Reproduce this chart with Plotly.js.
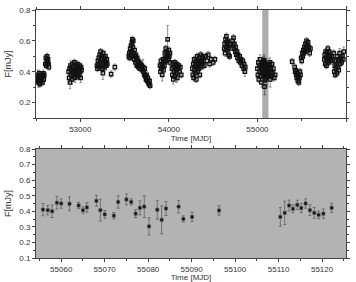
<!DOCTYPE html>
<html><head><meta charset="utf-8">
<script src="https://cdn.plot.ly/plotly-3.0.1.min.js"></script>
<style>html,body{margin:0;padding:0;background:#fff}#c{width:356px;height:282px}</style>
</head><body><div id="c"></div>
<script>
// ---- Top panel: full light curve (MJD, flux mJy, error) ----
var topMJD = [
 52508,52513,52518,52523,52528,52533,52538,52543,52548,52553,52558,52563,52568,52573,52578,52583,52588,52593,
 52606,52611,52616,52621,52626,52631,52636,52641,52645,
 52868,52874,52879,52884,52889,52894,52899,52904,52909,52914,52919,52924,52929,52934,52939,52944,52949,52954,52959,52964,52969,52974,52979,52984,52989,52994,52999,53004,53009,53014,
 53188,53194,53199,53204,53209,53214,53219,53224,53229,53234,53239,53244,53249,53255,53259,53264,53269,53274,53279,53284,53289,53294,53300,53305,
 53348,53390,
 53548,53553,53558,53563,53568,53573,53578,53583,53588,53593,53598,53603,53608,53613,53618,53623,53628,53633,53638,53643,53648,53653,53658,53663,53668,53673,53678,
 53695,53702,53708,53715,53722,53728,53735,53742,53748,53755,53762,53768,53775,53782,53788,
 53900,53905,53910,53915,53920,53925,53930,53935,53940,53945,53950,53955,53960,53965,53970,53975,53980,53986,53990,53995,54000,54005,54010,54012,
 54035,54040,54045,54050,54055,54060,54065,54070,54075,54080,54085,54090,54095,54100,54110,54120,54130,54140,
 54265,54270,54275,54280,54285,54290,54295,54300,54305,54310,54315,54320,54325,54330,54335,54340,54345,54350,54355,54360,54365,54370,54375,54380,54385,54390,
 54400,54415,54430,54445,54460,54480,54500,54520,
 54625,54630,54635,54640,54645,54650,54655,54660,54665,54670,54675,54680,54685,54690,
 54720,54725,54730,54735,54740,54750,54755,54760,54770,54775,54780,54790,54800,54810,54815,54825,54835,54845,54850,54858,54863,
 55000,55005,55010,55015,55020,55025,55030,55035,55040,55045,55050,55052,
 55130,55135,55140,55145,55150,55155,55160,55165,55170,55180,55190,55200,
 55392,
 55420,55426,55432,55438,55444,55450,55456,55462,55468,55474,55480,55486,
 55494,55500,55506,55512,55518,55524,55530,55536,55542,55548,55554,55560,55566,55572,55580,55590,55598,
 55755,55760,55765,55770,55775,55780,55785,55790,55795,55800,55805,55810,55815,55820,55830,55840,55850,55860,
 55868,55873,55878,55883,55888,55893,55898,55903,55908,55913,55918,55923,55928,55933,55940,55950,55960,55970,55975
];
var topFlux = [
 0.37,0.35,0.38,0.34,0.33,0.36,0.39,0.32,0.35,0.37,0.34,0.38,0.36,0.33,0.37,0.39,0.35,0.38,
 0.45,0.49,0.44,0.47,0.50,0.46,0.48,0.45,0.43,
 0.40,0.36,0.42,0.33,0.44,0.38,0.41,0.35,0.45,0.39,0.43,0.37,0.41,0.46,0.36,0.40,0.44,0.38,0.42,0.39,0.45,0.37,0.43,0.41,0.38,0.44,0.40,0.36,0.43,0.41,
 0.44,0.42,0.47,0.45,0.49,0.43,0.51,0.46,0.53,0.48,0.44,0.50,0.42,0.39,0.52,0.45,0.49,0.43,0.47,0.50,0.46,0.44,0.48,0.45,
 0.385,0.43,
 0.50,0.52,0.49,0.55,0.51,0.57,0.53,0.59,0.61,0.56,0.60,0.52,0.48,0.54,0.50,0.46,0.51,0.48,0.44,0.49,0.45,0.47,0.43,0.46,0.44,0.42,0.45,
 0.44,0.41,0.43,0.40,0.38,0.42,0.37,0.35,0.38,0.34,0.36,0.33,0.32,0.34,0.31,
 0.44,0.40,0.47,0.42,0.45,0.38,0.43,0.48,0.41,0.46,0.44,0.52,0.49,0.55,0.47,0.53,0.50,0.61,0.51,0.48,0.54,0.50,0.46,0.52,
 0.42,0.38,0.45,0.35,0.43,0.40,0.46,0.37,0.44,0.41,0.39,0.45,0.36,0.42,0.44,0.40,0.43,0.38,
 0.42,0.38,0.45,0.36,0.48,0.41,0.44,0.39,0.47,0.35,0.43,0.50,0.40,0.46,0.42,0.49,0.44,0.38,0.47,0.51,0.43,0.46,0.49,0.45,0.50,0.47,
 0.44,0.50,0.47,0.51,0.45,0.48,0.46,0.48,
 0.55,0.58,0.52,0.61,0.56,0.63,0.59,0.54,0.60,0.57,0.51,0.55,0.50,0.58,
 0.60,0.57,0.62,0.55,0.58,0.53,0.56,0.51,0.53,0.49,0.51,0.47,0.50,0.46,0.48,0.44,0.47,0.42,0.45,0.40,0.43,
 0.42,0.38,0.46,0.35,0.44,0.40,0.48,0.37,0.43,0.33,0.41,0.45,
 0.44,0.38,0.46,0.35,0.42,0.40,0.37,0.45,0.39,0.42,0.36,0.38,
 0.465,
 0.43,0.40,0.41,0.38,0.36,0.39,0.34,0.37,0.33,0.36,0.40,0.38,
 0.49,0.47,0.52,0.50,0.54,0.52,0.56,0.53,0.58,0.55,0.60,0.57,0.54,0.59,0.56,0.52,0.55,
 0.48,0.51,0.45,0.53,0.49,0.44,0.52,0.47,0.55,0.50,0.46,0.53,0.49,0.51,0.47,0.50,0.48,0.52,
 0.40,0.44,0.38,0.47,0.42,0.45,0.39,0.50,0.43,0.47,0.41,0.48,0.52,0.45,0.49,0.46,0.50,0.48,0.53
];
var topErr = [
 0.02,0.02,0.03,0.02,0.03,0.02,0.02,0.02,0.03,0.02,0.02,0.02,0.03,0.02,0.02,0.02,0.03,0.02,
 0.02,0.02,0.02,0.03,0.02,0.02,0.02,0.02,0.02,
 0.02,0.03,0.02,0.04,0.03,0.02,0.02,0.03,0.02,0.02,0.02,0.03,0.02,0.02,0.03,0.02,0.02,0.02,0.03,0.02,0.02,0.02,0.02,0.03,0.02,0.02,0.02,0.03,0.02,0.02,
 0.02,0.02,0.03,0.02,0.02,0.02,0.02,0.03,0.02,0.02,0.02,0.02,0.02,0.04,0.02,0.02,0.03,0.02,0.02,0.02,0.02,0.03,0.02,0.02,
 0.02,0.02,
 0.02,0.02,0.02,0.02,0.03,0.02,0.02,0.02,0.02,0.02,0.02,0.02,0.02,0.02,0.02,0.02,0.02,0.02,0.02,0.02,0.02,0.02,0.02,0.02,0.02,0.02,0.02,
 0.03,0.02,0.05,0.02,0.02,0.02,0.02,0.02,0.02,0.02,0.02,0.02,0.02,0.02,0.02,
 0.02,0.02,0.02,0.02,0.03,0.04,0.02,0.02,0.02,0.02,0.02,0.02,0.03,0.02,0.02,0.02,0.02,0.09,0.02,0.02,0.02,0.02,0.02,0.02,
 0.02,0.02,0.02,0.03,0.02,0.02,0.02,0.02,0.02,0.02,0.06,0.02,0.02,0.02,0.02,0.02,0.02,0.02,
 0.02,0.02,0.02,0.02,0.02,0.02,0.03,0.02,0.02,0.02,0.02,0.02,0.02,0.02,0.02,0.02,0.02,0.02,0.02,0.02,0.02,0.02,0.02,0.02,0.02,0.02,
 0.02,0.02,0.02,0.02,0.02,0.02,0.02,0.02,
 0.02,0.02,0.02,0.02,0.02,0.02,0.02,0.02,0.02,0.02,0.02,0.02,0.02,0.02,
 0.02,0.02,0.02,0.02,0.02,0.02,0.02,0.02,0.02,0.02,0.02,0.02,0.02,0.02,0.02,0.02,0.02,0.02,0.02,0.03,0.02,
 0.03,0.02,0.03,0.02,0.04,0.02,0.03,0.02,0.02,0.03,0.02,0.02,
 0.03,0.02,0.03,0.05,0.02,0.03,0.02,0.02,0.02,0.03,0.02,0.03,
 0.02,
 0.02,0.02,0.02,0.02,0.02,0.02,0.02,0.02,0.02,0.02,0.02,0.02,
 0.02,0.02,0.02,0.02,0.02,0.02,0.02,0.02,0.02,0.02,0.02,0.02,0.02,0.02,0.02,0.02,0.02,
 0.02,0.02,0.02,0.02,0.03,0.02,0.02,0.02,0.02,0.02,0.02,0.02,0.02,0.02,0.02,0.02,0.02,0.02,
 0.02,0.02,0.02,0.02,0.02,0.02,0.02,0.02,0.02,0.02,0.02,0.02,0.03,0.02,0.02,0.02,0.02,0.02,0.03
];
// ---- Bottom panel: zoom on the shaded interval (also drawn in the top panel) ----
var zoomMJD = [55055.8,55056.9,55057.9,55059.0,55060.0,55061.9,55064.0,55065.0,55065.9,55068.1,55069.0,55070.0,55072.1,55073.1,55075.0,55076.1,55077.1,55078.1,55079.1,55080.2,55082.1,55083.1,55084.1,55087.0,55088.1,55090.1,55096.3,55110.4,55111.4,55112.4,55113.3,55114.3,55115.2,55116.2,55117.2,55118.2,55119.2,55120.3,55122.2];
var zoomFlux = [0.411,0.407,0.400,0.455,0.450,0.448,0.437,0.407,0.425,0.467,0.407,0.380,0.372,0.460,0.476,0.460,0.385,0.422,0.430,0.303,0.410,0.345,0.418,0.430,0.351,0.364,0.405,0.364,0.390,0.437,0.416,0.441,0.421,0.450,0.407,0.390,0.377,0.385,0.422];
var zoomErr = [0.04,0.03,0.04,0.04,0.03,0.045,0.02,0.02,0.03,0.035,0.07,0.025,0.02,0.04,0.035,0.02,0.025,0.045,0.07,0.055,0.06,0.09,0.045,0.04,0.02,0.03,0.03,0.06,0.075,0.035,0.025,0.03,0.03,0.03,0.035,0.035,0.025,0.03,0.03];
var band = [55054, 55125];
var topTicks = [53000, 54000, 55000, 56000];
var zoomTicks = [55060, 55070, 55080, 55090, 55100, 55110, 55120];

var F = {family: 'Liberation Sans, Arial, sans-serif', size: 8, color: '#333'};
var topMarker = {symbol:'square-open', size:3.4, color:'#111', line:{width:1.3, color:'#111'}};
var traces = [
 {type:'scatter', mode:'markers', x: topMJD, y: topFlux, xaxis:'x', yaxis:'y',
  error_y:{type:'data', array: topErr, color:'#666', thickness:0.7, width:1.2},
  marker: topMarker, hoverinfo:'skip'},
 {type:'scatter', mode:'markers', x: zoomMJD, y: zoomFlux, xaxis:'x', yaxis:'y',
  error_y:{type:'data', array: zoomErr, color:'#666', thickness:0.7, width:1.2},
  marker: topMarker, hoverinfo:'skip'},
 {type:'scatter', mode:'markers', x: zoomMJD, y: zoomFlux, xaxis:'x2', yaxis:'y2',
  error_y:{type:'data', array: zoomErr, color:'#555', thickness:0.7, width:1.5},
  marker:{symbol:'square', size:3.2, color:'#111', line:{width:0.6, color:'#666'}}, hoverinfo:'skip'}
];
var axBase = {showline:true, linecolor:'#444', linewidth:1, mirror:'ticks', ticks:'outside', ticklen:3, tickcolor:'#444', showgrid:false, zeroline:false, tickfont:F};
var layout = {
 width:356, height:282, margin:{l:36, r:10, t:10, b:24}, paper_bgcolor:'#fff', plot_bgcolor:'rgba(0,0,0,0)', showlegend:false,
 font: F,
 xaxis: Object.assign({}, axBase, {domain:[0,1], anchor:'y', range:[52500,56000], tickvals: topTicks, tickformat:'d',
   minor:{dtick:500, tick0:52500, ticklen:2, ticks:'outside', tickcolor:'#444'},
   title:{text:'Time [MJD]', font:{family:F.family, size:8, color:'#333'}, standoff:1}}),
 yaxis: Object.assign({}, axBase, {domain:[0.5645,1], anchor:'x', range:[0.1,0.8], tick0:0.2, dtick:0.2, tickformat:'.1f',
   minor:{dtick:0.1, ticklen:2, ticks:'outside', tickcolor:'#444'},
   title:{text:'F[mJy]', font:{family:F.family, size:9, color:'#333'}, standoff:6}}),
 xaxis2: Object.assign({}, axBase, {domain:[0,1], anchor:'y2', range:[55054.2,55125.5], tickvals: zoomTicks, tickformat:'d',
   minor:{dtick:5, tick0:55055, ticklen:2, ticks:'outside', tickcolor:'#444'},
   title:{text:'Time [MJD]', font:{family:F.family, size:8, color:'#333'}, standoff:1}}),
 yaxis2: Object.assign({}, axBase, {domain:[0,0.4395], anchor:'x2', range:[0.1,0.8], tick0:0.2, dtick:0.1, tickformat:'.1f',
   minor:{dtick:0.05, ticklen:2, ticks:'outside', tickcolor:'#444'},
   title:{text:'F[mJy]', font:{family:F.family, size:9, color:'#333'}, standoff:6}}),
 shapes:[
  {type:'rect', xref:'x', x0: band[0], x1: band[1], yref:'y domain', y0:0, y1:1, fillcolor:'#adadad', line:{width:0}, layer:'below'},
  {type:'rect', xref:'x2 domain', x0:0, x1:1, yref:'y2 domain', y0:0, y1:1, fillcolor:'#b3b3b3', line:{width:0}, layer:'below'}
 ]
};
Plotly.newPlot('c', traces, layout, {displayModeBar:false, staticPlot:true});
</script></body></html>
